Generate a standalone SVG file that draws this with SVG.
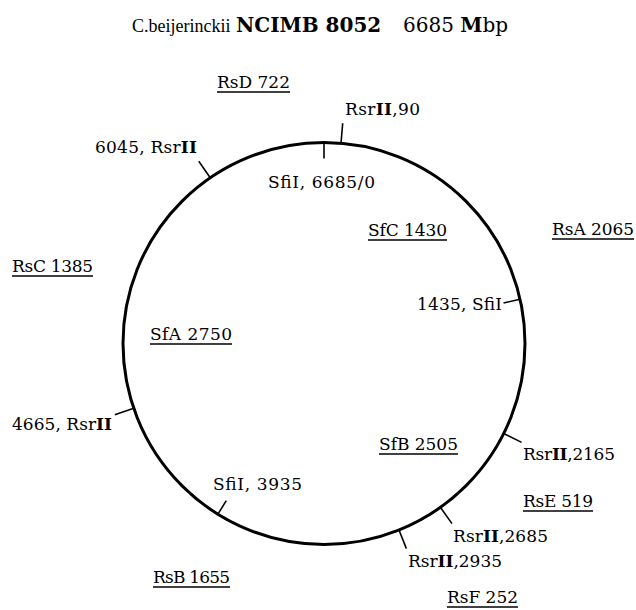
<svg xmlns="http://www.w3.org/2000/svg" width="636" height="610" viewBox="0 0 636 610">
<style>
text{font-family:"DejaVu Serif","Liberation Serif",serif;font-size:17px;fill:#000}
.t{font-size:20px}
.tl{font-family:"Liberation Serif","DejaVu Serif",serif;font-size:18px}
.b{font-weight:bold}
.ul{stroke:#000;stroke-width:1.5}
.tick{stroke:#000;stroke-width:1.6;fill:none}
</style>
<rect width="636" height="610" fill="#fff"/>
<g id="title">
<text class="tl" x="132" y="32">C.beijerinckii</text>
<text class="t b" x="236" y="32">NCIMB 8052</text>
<text class="t" x="403" y="32">6685 <tspan class="b">M</tspan>bp</text>
</g>
<g id="chromosome">
<circle cx="324" cy="343.5" r="201" fill="none" stroke="#000" stroke-width="3"/>
</g>
<g id="connectors">
<line class="tick" x1="324" y1="142.5" x2="324" y2="158.5"/>
<line class="tick" x1="341" y1="143.2" x2="342.7" y2="123.3"/>
<line class="tick" x1="210.2" y1="177.8" x2="198.8" y2="161.3"/>
<line class="tick" x1="520" y1="299.3" x2="503.5" y2="303"/>
<line class="tick" x1="133.7" y1="408.3" x2="114.8" y2="414.7"/>
<line class="tick" x1="503.7" y1="433.5" x2="521.6" y2="442.4"/>
<line class="tick" x1="440.4" y1="507.3" x2="452" y2="523.6"/>
<line class="tick" x1="399" y1="530" x2="406.4" y2="548.6"/>
<line class="tick" x1="217.9" y1="514.2" x2="226.3" y2="500.6"/>
</g>
<g id="site-sfi-0"><text x="268" y="188" textLength="107">SfiI, 6685/0</text></g>
<g id="site-rsr-90"><text x="345" y="115" textLength="75">Rsr<tspan class="b">II</tspan>,90</text></g>
<g id="site-rsr-6045"><text x="95" y="153" textLength="102">6045, Rsr<tspan class="b">II</tspan></text></g>
<g id="site-sfi-1435"><text x="417" y="310" textLength="85">1435, SfiI</text></g>
<g id="site-rsr-4665"><text x="12" y="430" textLength="100">4665, Rsr<tspan class="b">II</tspan></text></g>
<g id="site-rsr-2165"><text x="523" y="460" textLength="92">Rsr<tspan class="b">II</tspan>,2165</text></g>
<g id="site-rsr-2685"><text x="453" y="542" textLength="95">Rsr<tspan class="b">II</tspan>,2685</text></g>
<g id="site-rsr-2935"><text x="408" y="567" textLength="94">Rsr<tspan class="b">II</tspan>,2935</text></g>
<g id="site-sfi-3935"><text x="213" y="490" textLength="89">SfiI, 3935</text></g>
<g id="frag-RsD"><text x="217" y="88" textLength="73">RsD 722</text><line class="ul" x1="217" y1="92" x2="290" y2="92"/></g>
<g id="frag-SfC"><text x="368" y="236" textLength="79">SfC 1430</text><line class="ul" x1="368" y1="240" x2="447" y2="240"/></g>
<g id="frag-RsA"><text x="552" y="235" textLength="82">RsA 2065</text><line class="ul" x1="552" y1="239" x2="634" y2="239"/></g>
<g id="frag-RsC"><text x="12" y="272" textLength="81">RsC 1385</text><line class="ul" x1="12" y1="276" x2="93" y2="276"/></g>
<g id="frag-SfA"><text x="150" y="340" textLength="82">SfA 2750</text><line class="ul" x1="150" y1="344" x2="232" y2="344"/></g>
<g id="frag-SfB"><text x="379" y="450" textLength="79">SfB 2505</text><line class="ul" x1="379" y1="454" x2="458" y2="454"/></g>
<g id="frag-RsE"><text x="523" y="507" textLength="70">RsE 519</text><line class="ul" x1="523" y1="511" x2="593" y2="511"/></g>
<g id="frag-RsB"><text x="153" y="583" textLength="77">RsB 1655</text><line class="ul" x1="153" y1="587" x2="230" y2="587"/></g>
<g id="frag-RsF"><text x="447" y="603" textLength="71">RsF 252</text><line class="ul" x1="447" y1="607" x2="518" y2="607"/></g>
</svg>
